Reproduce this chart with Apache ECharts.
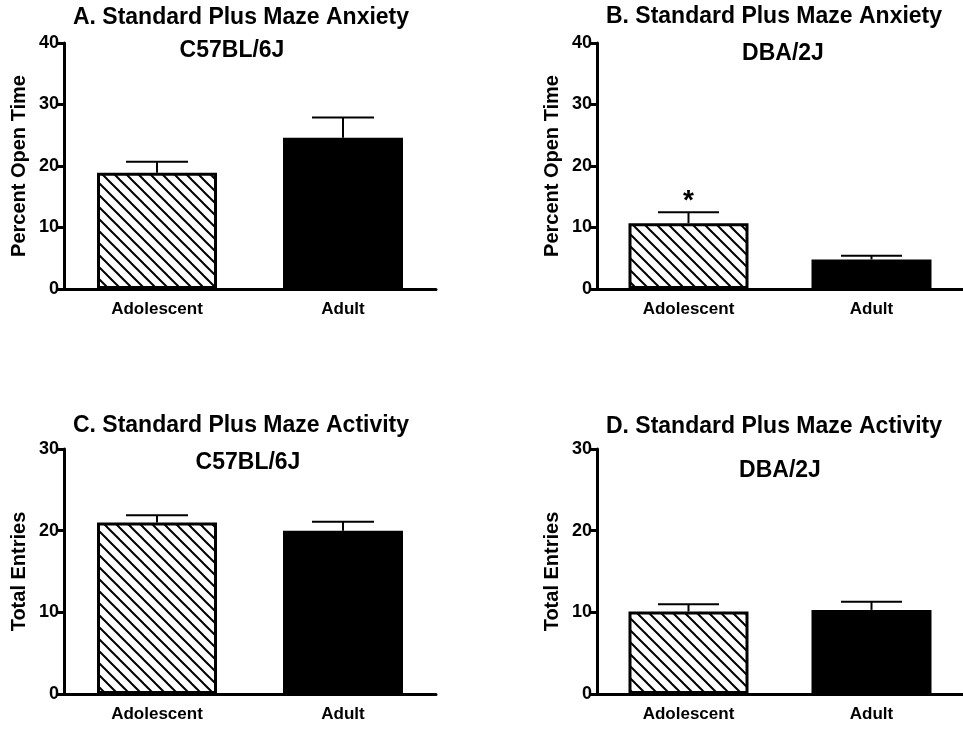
<!DOCTYPE html>
<html>
<head>
<meta charset="utf-8">
<script src="https://cdn.jsdelivr.net/npm/echarts@6/dist/echarts.min.js"></script>
<style>
html,body{margin:0;padding:0;background:#fff;}
#chart{width:963px;height:729px;}
</style>
</head>
<body>
<div id="chart"></div>
<script>
// ---- data ----
var categories = ['Adolescent', 'Adult'];
var anxietyC57 = [18.9, 24.6];
var anxietyC57Sem = [1.8, 3.3];
var anxietyDBA = [10.7, 4.8];
var anxietyDBASem = [1.8, 0.6];
var activityC57 = [21.0, 20.0];
var activityC57Sem = [0.9, 1.1];
var activityDBA = [10.1, 10.3];
var activityDBASem = [0.9, 1.0];
var anxietyDBASig = ['*', ''];
var anxietyTicks = [0, 10, 20, 30, 40];
var activityTicks = [0, 10, 20, 30];

var FONT = '"Liberation Sans", Arial, Helvetica, sans-serif';

// hatch pattern
var tile = document.createElement('canvas');
tile.width = 12; tile.height = 12;
var ctx = tile.getContext('2d');
ctx.fillStyle = '#fff';
ctx.fillRect(0, 0, 12, 12);
ctx.strokeStyle = '#000';
ctx.lineWidth = 2;
[-12, 0, 12].forEach(function (c) {
  ctx.beginPath();
  ctx.moveTo(-2, -2 + c);
  ctx.lineTo(14, 14 + c);
  ctx.stroke();
});
var hatch = { image: tile, repeat: 'repeat' };
var fills = [hatch, '#000'];

var grids = [
  { left: 64, top: 43, width: 372, height: 246 },
  { left: 597, top: 43, width: 368, height: 246 },
  { left: 64, top: 449, width: 372, height: 245 },
  { left: 597, top: 449, width: 368, height: 245 }
];
var panels = [
  { vals: anxietyC57, sem: anxietyC57Sem, sig: ['', ''], max: anxietyTicks[anxietyTicks.length - 1], name: 'Percent Open Time' },
  { vals: anxietyDBA, sem: anxietyDBASem, sig: anxietyDBASig, max: anxietyTicks[anxietyTicks.length - 1], name: 'Percent Open Time' },
  { vals: activityC57, sem: activityC57Sem, sig: ['', ''], max: activityTicks[activityTicks.length - 1], name: 'Total Entries' },
  { vals: activityDBA, sem: activityDBASem, sig: ['', ''], max: activityTicks[activityTicks.length - 1], name: 'Total Entries' }
];

var xAxes = [], yAxes = [], series = [];
panels.forEach(function (p, i) {
  xAxes.push({
    type: 'category', gridIndex: i, data: categories,
    axisLine: { lineStyle: { color: '#000', width: 3 } },
    axisTick: { alignWithLabel: true, length: 7, lineStyle: { color: '#000', width: 3 } },
    axisLabel: { color: '#000', fontFamily: FONT, fontWeight: 'bold', fontSize: 17, margin: 12 },
    splitLine: { show: false }
  });
  yAxes.push({
    type: 'value', gridIndex: i, min: 0, max: p.max, interval: 10,
    name: p.name, nameLocation: 'middle', nameGap: 35,
    nameTextStyle: { color: '#000', fontFamily: FONT, fontWeight: 'bold', fontSize: 20 },
    axisLine: { show: true, lineStyle: { color: '#000', width: 3 } },
    axisTick: { show: true, length: 7, lineStyle: { color: '#000', width: 3 } },
    axisLabel: { color: '#000', fontFamily: FONT, fontWeight: 'bold', fontSize: 18, margin: 5 },
    splitLine: { show: false }
  });
  series.push({
    type: 'bar', xAxisIndex: i, yAxisIndex: i, barWidth: 120,
    data: p.vals.map(function (v, j) {
      return { value: v, itemStyle: { color: fills[j], borderColor: '#000', borderWidth: 3 } };
    }),
    silent: true
  });
  series.push({
    type: 'custom', xAxisIndex: i, yAxisIndex: i, z: 1,
    data: p.vals.map(function (v, j) { return [j, v, v + p.sem[j], p.sig[j]]; }),
    renderItem: function (params, api) {
      var x = api.value(0);
      var base = api.coord([x, api.value(1)]);
      var top = api.coord([x, api.value(2)]);
      var half = api.size([1, 0])[0] / 6;
      var children = [
        { type: 'line', shape: { x1: base[0], y1: base[1], x2: top[0], y2: top[1] }, style: { stroke: '#000', lineWidth: 2 } },
        { type: 'line', shape: { x1: top[0] - half, y1: top[1], x2: top[0] + half, y2: top[1] }, style: { stroke: '#000', lineWidth: 2 } }
      ];
      var s = p.sig[params.dataIndex];
      if (s) {
        children.push({ type: 'text', x: top[0], y: top[1] - 11, style: { text: s, fill: '#000', font: 'bold 28px ' + FONT, textAlign: 'center', textVerticalAlign: 'middle' } });
      }
      return { type: 'group', children: children };
    },
    silent: true
  });
});

function title(text, x, y) {
  return { type: 'text', x: x, y: y, style: { text: text, fill: '#000', font: 'bold 23px ' + FONT, textAlign: 'center', textVerticalAlign: 'middle' } };
}

var chart = echarts.init(document.getElementById('chart'), null, { renderer: 'canvas' });
chart.setOption({
  animation: false,
  backgroundColor: '#fff',
  grid: grids,
  xAxis: xAxes,
  yAxis: yAxes,
  series: series,
  graphic: [
    title('A. Standard Plus Maze Anxiety', 241, 18),
    title('C57BL/6J', 232, 51),
    title('B. Standard Plus Maze Anxiety', 774, 17),
    title('DBA/2J', 783, 54),
    title('C. Standard Plus Maze Activity', 241, 426),
    title('C57BL/6J', 248, 463),
    title('D. Standard Plus Maze Activity', 774, 427),
    title('DBA/2J', 780, 471)
  ]
});
</script>
</body>
</html>
